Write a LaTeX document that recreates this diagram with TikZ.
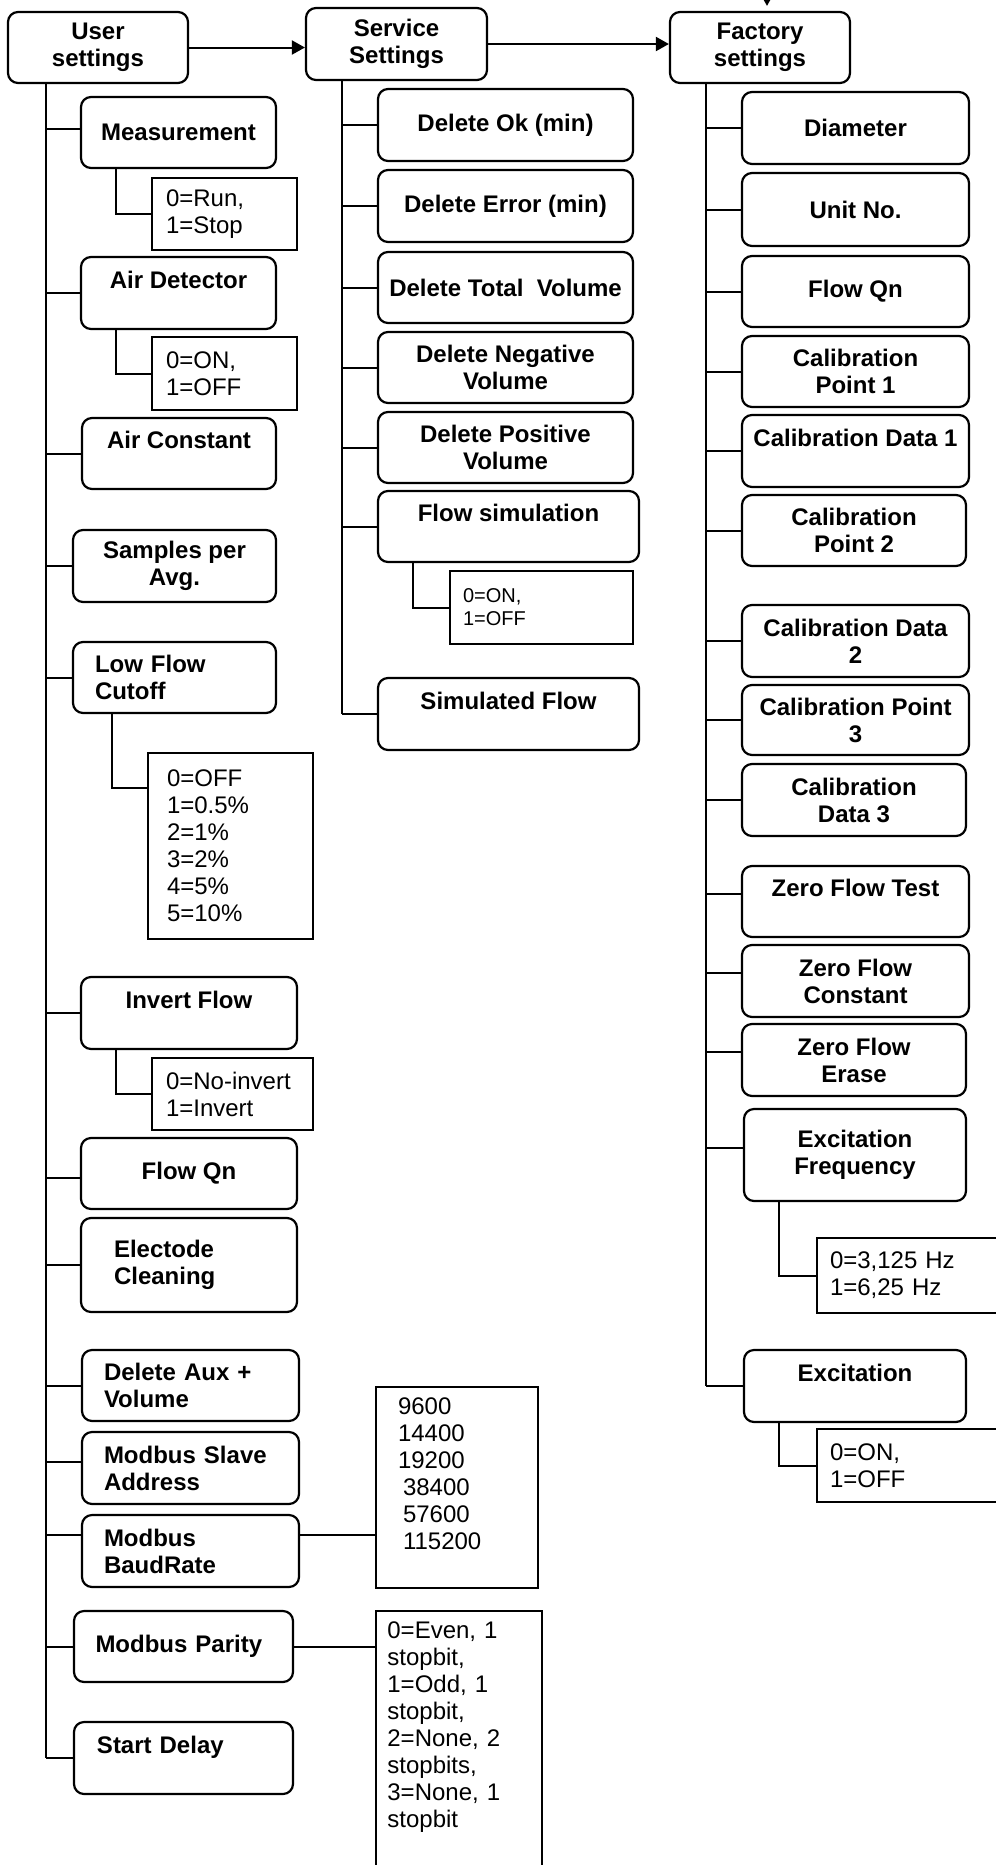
\documentclass[tikz,border=0pt]{standalone}
\usepackage{fontspec}
\setmainfont{Liberation Sans}
\usetikzlibrary{arrows.meta,calc}
\newcommand\boxfnt{\fontsize{12}{13.5}\selectfont\bfseries}
\newcommand\optfnt{\fontsize{12}{13.5}\selectfont}
\newcommand\smallfnt{\fontsize{10}{11.5}\selectfont}
% #1 options, #2 name, #3 x1, #4 y1, #5 x2, #6 y2 (pixels), #7 text
\newcommand\placebox[7][]{%
  \pgfmathsetmacro\bxc{(#3+#5)/2}%
  \pgfmathsetmacro\byc{(#4+#6)/2}%
  \pgfmathsetmacro\bxw{(#5-#3)/2}%
  \pgfmathsetmacro\byh{(#6-#4)/2}%
  \node[minimum width=\bxw pt, minimum height=\byh pt, #1] (#2) at (\bxc,\byc) {#7};}
\newcommand\mytick[3][0pt]{\coordinate (#3-t) at ([yshift=#1]#3.west); \draw[conn] (#2 |- #3-t) -- (#3-t);}
\begin{document}
\begin{tikzpicture}[x=0.5pt,y=-0.5pt,
  conn/.style={line width=1pt},
  arr/.style={conn,-{Triangle[length=6.5pt,width=7pt]}},
  rbox/.style={draw,rounded corners=5pt,line width=1.1pt,font=\boxfnt,align=center,inner sep=3pt},
  obox/.style={draw,line width=1pt,font=\optfnt,align=left}]
\useasboundingbox (0,0) rectangle (996,1865);
\fill[white] (0,0) rectangle (996,1865);
\clip (0,0) rectangle (996,1865);

% ---------------- User settings column ----------------
\placebox[rbox]{user}{8}{12}{188}{83}{User\\settings}
\placebox[rbox]{meas}{81}{97}{276}{168}{Measurement}
\placebox[obox,text width=58.5pt,inner xsep=7pt]{measopt}{152}{178}{297}{250}{0=Run,\\1=Stop}
\placebox[rbox]{airdet}{81}{257}{276}{329}{Air Detector\\\mbox{}}
\placebox[obox,text width=58.5pt,inner xsep=7pt]{airopt}{152}{337}{297}{410}{0=ON,\\1=OFF}
\placebox[rbox]{airconst}{82}{418}{276}{489}{Air Constant\\\mbox{}}
\placebox[rbox]{samples}{73}{530}{276}{602}{Samples per\\Avg.}
\placebox[rbox,align=left,text width=79.5pt,inner xsep=11pt]{lowflow}{73}{642}{276}{713}{Low Flow\\Cutoff}
\placebox[obox,text width=63.5pt,inner xsep=9.5pt]{lowopt}{148}{753}{313}{939}{0=OFF\\1=0.5\%\\2=1\%\\3=2\%\\4=5\%\\5=10\%}
\placebox[rbox]{invert}{81}{977}{297}{1049}{Invert Flow\\\mbox{}}
\placebox[obox,text width=66.5pt,inner xsep=7pt]{invopt}{152}{1058}{313}{1130}{0=No-invert\\1=Invert}
\placebox[rbox]{uflowqn}{81}{1138}{297}{1209}{Flow Qn}
\placebox[rbox,align=left,text width=75pt,inner xsep=16.5pt]{electrode}{81}{1218}{297}{1312}{Electode\\Cleaning}
\placebox[rbox,align=left,text width=86.5pt,inner xsep=11pt]{delaux}{82}{1350}{299}{1421}{Delete Aux +\\Volume}
\placebox[rbox,align=left,text width=86.5pt,inner xsep=11pt]{slave}{82}{1432}{299}{1504}{Modbus Slave\\Address}
\placebox[rbox,align=left,text width=86.5pt,inner xsep=11pt]{baud}{82}{1515}{299}{1587}{Modbus\\BaudRate}
\placebox[obox,text width=59pt,inner xsep=11pt]{baudopt}{376}{1387}{538}{1588}{9600\\14400\\19200\\\hspace*{2.5pt}38400\\\hspace*{2.5pt}57600\\\hspace*{2.5pt}115200\\\mbox{}}
\placebox[rbox,align=left,text width=88pt,inner xsep=10.75pt]{parity}{74}{1611}{293}{1682}{Modbus Parity}
\placebox[obox]{paropt}{376}{1611}{542}{1905}{}
\node[anchor=north west,inner sep=0pt,text width=71pt,align=left,font=\optfnt] (partxt)
  at ([xshift=6pt,yshift=-5.5pt]paropt.north west)
  {0=Even, 1\\stopbit,\\1=Odd, 1\\stopbit,\\2=None, 2\\stopbits,\\3=None, 1\\stopbit};
\placebox[rbox,align=left,text width=86.5pt,inner xsep=11.5pt]{startd}{74}{1722}{293}{1794}{Start Delay\\\mbox{}}

% ---------------- Service settings column ----------------
\placebox[rbox]{serv}{306}{8}{487}{80}{Service\\Settings}
\placebox[rbox]{delok}{378}{89}{633}{161}{Delete Ok (min)}
\placebox[rbox]{delerr}{378}{170}{633}{242}{Delete Error (min)}
\placebox[rbox]{deltot}{378}{252}{633}{323}{Delete Total~~Volume}
\placebox[rbox]{delneg}{378}{332}{633}{403}{Delete Negative\\Volume}
\placebox[rbox]{delpos}{378}{412}{633}{483}{Delete Positive\\Volume}
\placebox[rbox]{flowsim}{378}{491}{639}{562}{Flow simulation\\\mbox{}}
\placebox[obox,font=\smallfnt,text width=78.5pt,inner xsep=6.5pt]{simopt}{450}{571}{633}{644}{0=ON,\\1=OFF}
\placebox[rbox]{simflow}{378}{678}{639}{750}{Simulated Flow\\\mbox{}}

% ---------------- Factory settings column ----------------
\placebox[rbox]{fact}{670}{12}{850}{83}{Factory\\settings}
\placebox[rbox]{diam}{742}{92}{969}{164}{Diameter}
\placebox[rbox]{unitno}{742}{173}{969}{246}{Unit No.}
\placebox[rbox]{fflowqn}{742}{256}{969}{327}{Flow Qn}
\placebox[rbox]{calp1}{742}{336}{969}{407}{Calibration\\Point 1}
\placebox[rbox]{cald1}{742}{415}{969}{487}{Calibration Data 1\\\mbox{}}
\placebox[rbox]{calp2}{742}{495}{966}{566}{Calibration\\Point 2}
\placebox[rbox]{cald2}{742}{605}{969}{677}{Calibration Data\\2}
\placebox[rbox]{calp3}{742}{685}{969}{755}{Calibration Point\\3}
\placebox[rbox]{cald3}{742}{764}{966}{836}{Calibration\\Data 3}
\placebox[rbox]{zft}{742}{866}{969}{937}{Zero Flow Test\\\mbox{}}
\placebox[rbox]{zfc}{742}{945}{969}{1017}{Zero Flow\\Constant}
\placebox[rbox]{zfe}{742}{1024}{966}{1096}{Zero Flow\\Erase}
\placebox[rbox]{excf}{744}{1109}{966}{1201}{Excitation\\Frequency}
\placebox[obox,text width=83.5pt,inner xsep=6.5pt]{excfopt}{817}{1238}{1010}{1313}{0=3,125 Hz\\1=6,25 Hz}
\placebox[rbox]{excit}{744}{1350}{966}{1422}{Excitation\\\mbox{}}
\placebox[obox,text width=83.5pt,inner xsep=6.5pt]{excopt}{817}{1429}{1010}{1502}{0=ON,\\1=OFF}

% ---------------- arrows between headings ----------------
\draw[arr] (user.east) -- (user.east -| serv.west);
\draw[arr] (serv.east) -- (serv.east -| fact.west);
\coordinate (topin) at (767,-40);
\draw[arr,shorten >=2.5pt] (topin) -- (topin |- fact.north);

% ---------------- trunks and ticks ----------------
\coordinate (utop) at ([xshift=19.5pt]user.south west);
\coordinate (stop) at ([xshift=18.5pt]serv.south west);
\coordinate (ftop) at ([xshift=18.5pt]fact.south west);

\mytick[1.75pt]{utop}{meas}
\mytick{utop}{airdet}
\mytick{utop}{airconst}
\mytick{utop}{samples}
\mytick{utop}{lowflow}
\mytick{utop}{invert}
\mytick[-2.25pt]{utop}{uflowqn}
\mytick{utop}{electrode}
\mytick{utop}{delaux}
\mytick[3pt]{utop}{slave}
\mytick[8pt]{utop}{baud}
\mytick{utop}{parity}
\mytick{utop}{startd}
\draw[conn] (utop) -- (utop |- startd-t);

\mytick{stop}{delok}
\mytick{stop}{delerr}
\mytick{stop}{deltot}
\mytick{stop}{delneg}
\mytick{stop}{delpos}
\mytick{stop}{flowsim}
\mytick{stop}{simflow}
\draw[conn] (stop) -- (stop |- simflow-t);

\mytick{ftop}{diam}
\mytick{ftop}{unitno}
\mytick{ftop}{fflowqn}
\mytick{ftop}{calp1}
\mytick{ftop}{cald1}
\mytick{ftop}{calp2}
\mytick{ftop}{cald2}
\mytick{ftop}{calp3}
\mytick{ftop}{cald3}
\mytick[3.75pt]{ftop}{zft}
\mytick[4pt]{ftop}{zfc}
\mytick[4pt]{ftop}{zfe}
\mytick[3.5pt]{ftop}{excf}
\mytick{ftop}{excit}
\draw[conn] (ftop) -- (ftop |- excit-t);

% ---------------- option connectors ----------------
\draw[conn] ([xshift=18pt]meas.south west) |- (measopt.west);
\draw[conn] ([xshift=18pt]airdet.south west) |- (airopt.west);
\draw[conn] ([xshift=20pt]lowflow.south west) |- ([yshift=-18pt]lowopt.north west);
\draw[conn] ([xshift=18pt]invert.south west) |- (invopt.west);
\draw[conn] ([xshift=18pt]flowsim.south west) |- (simopt.west);
\draw[conn] ([xshift=18pt]excf.south west) |- (excfopt.west);
\draw[conn] ([xshift=18pt]excit.south west) |- (excopt.west);
\draw[conn] (baud.east |- baud-t) -- (baud-t -| baudopt.west);
\draw[conn] (parity.east) -- (parity.east -| paropt.west);
\end{tikzpicture}
\end{document}
